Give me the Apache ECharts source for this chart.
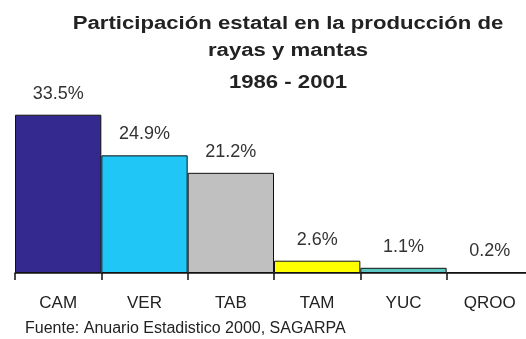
<!DOCTYPE html>
<html>
<head>
<meta charset="utf-8">
<script src="https://cdn.jsdelivr.net/npm/echarts@6/dist/echarts.min.js"></script>
<style>
  html, body { margin: 0; padding: 0; background: #fff; overflow: hidden; }
  #chart { width: 526px; height: 339px; }
</style>
</head>
<body>
<div id="chart"></div>
<script>
// States and their share of ray and manta production, 1986-2001 (%)
const states = ['CAM', 'VER', 'TAB', 'TAM', 'YUC', 'QROO'];
const shares = [33.5, 24.9, 21.2, 2.6, 1.1, 0.2];
const barColors = ['#33298f', '#1fc6f6', '#c0c0c0', '#ffff00', '#5cc6c2', '#f4a6c8'];
const titleLines = ['Participación estatal en la producción de', 'rayas y mantas', '1986 - 2001'];
const sourceNote = 'Fuente: Anuario Estadistico 2000, SAGARPA';

const FONT = '"Liberation Sans", Arial, sans-serif';
const titleY = [24, 51, 83];

const chart = echarts.init(document.getElementById('chart'), null, { renderer: 'canvas' });

const titleTexts = titleLines.map((line, i) => ({
  type: 'text',
  x: 288,
  y: titleY[i],
  scaleX: 1.23,
  style: {
    text: line,
    font: 'bold 18px ' + FONT,
    fill: '#222',
    textAlign: 'center',
    textVerticalAlign: 'middle',
    align: 'center',
    verticalAlign: 'middle'
  }
}));

chart.setOption({
  animation: false,
  backgroundColor: '#fff',
  // the last category runs past the right edge of the canvas
  grid: { left: 15, right: -7, top: 84, bottom: 66, containLabel: false, outerBoundsMode: 'none' },
  xAxis: {
    type: 'category',
    data: states,
    axisLine: { lineStyle: { color: '#111', width: 1.5 } },
    axisTick: { show: true, length: 7, lineStyle: { color: '#111', width: 1.5 } },
    axisLabel: { margin: 22, fontSize: 17, fontFamily: FONT, color: '#222' }
  },
  yAxis: {
    type: 'value',
    min: 0,
    max: 40,
    show: false,
    splitLine: { show: false }
  },
  series: [{
    type: 'bar',
    barCategoryGap: '0%',
    data: shares.map((v, i) => ({
      value: v,
      itemStyle: { color: barColors[i] }
    })),
    itemStyle: { borderColor: '#111', borderWidth: 1 },
    label: {
      show: true,
      position: 'top',
      distance: 12,
      fontSize: 18,
      fontFamily: FONT,
      color: '#333',
      formatter: p => p.value.toFixed(1) + '%'
    }
  }],
  graphic: titleTexts.concat([{
    type: 'text',
    x: 25,
    y: 329,
    style: {
      text: sourceNote,
      font: '16px ' + FONT,
      fill: '#222',
      textAlign: 'left',
      textVerticalAlign: 'middle',
      align: 'left',
      verticalAlign: 'middle'
    }
  }])
});
</script>
</body>
</html>
